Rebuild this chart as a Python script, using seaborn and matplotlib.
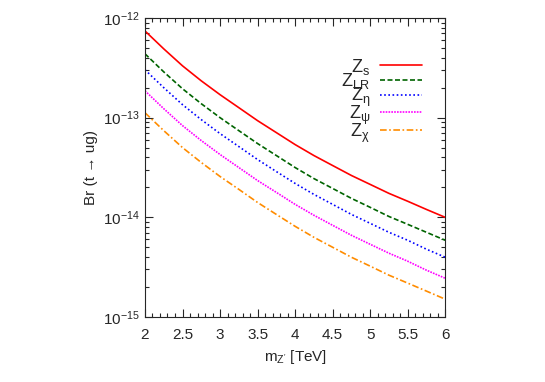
import pandas as pd
import matplotlib
matplotlib.use("Agg")
import matplotlib.pyplot as plt
import matplotlib.ticker as mticker
import seaborn as sns

# Z' mass [TeV] and branching ratios
m_zp = [2.0, 2.25, 2.5, 2.75, 3.0, 3.25, 3.5, 3.75, 4.0,
        4.25, 4.5, 4.75, 5.0, 5.25, 5.5, 5.75, 6.0]
br_zs = [7.41e-13, 4.90e-13, 3.31e-13, 2.34e-13, 1.70e-13, 1.26e-13, 9.33e-14, 7.08e-14, 5.37e-14,
         4.17e-14, 3.31e-14, 2.63e-14, 2.14e-14, 1.74e-14, 1.45e-14, 1.20e-14, 1.00e-14]
br_zlr = [4.37e-13, 2.88e-13, 1.95e-13, 1.38e-13, 1.00e-13, 7.41e-14, 5.50e-14, 4.17e-14, 3.16e-14,
          2.45e-14, 1.95e-14, 1.55e-14, 1.26e-14, 1.02e-14, 8.51e-15, 7.08e-15, 5.89e-15]
br_zeta = [3.02e-13, 2.00e-13, 1.35e-13, 9.55e-14, 6.92e-14, 5.13e-14, 3.80e-14, 2.88e-14, 2.19e-14,
           1.70e-14, 1.35e-14, 1.07e-14, 8.71e-15, 7.08e-15, 5.89e-15, 4.79e-15, 3.98e-15]
br_zpsi = [1.86e-13, 1.23e-13, 8.32e-14, 5.89e-14, 4.27e-14, 3.16e-14, 2.34e-14, 1.78e-14, 1.35e-14,
           1.05e-14, 8.32e-15, 6.61e-15, 5.37e-15, 4.37e-15, 3.63e-15, 2.95e-15, 2.45e-15]
br_zchi = [1.12e-13, 7.41e-14, 5.01e-14, 3.55e-14, 2.57e-14, 1.91e-14, 1.41e-14, 1.07e-14, 8.13e-15,
           6.31e-15, 5.01e-15, 3.98e-15, 3.24e-15, 2.63e-15, 2.19e-15, 1.82e-15, 1.51e-15]
y_ticks = [1e-15, 1e-14, 1e-13, 1e-12]

labels = [r"$\mathregular{Z_s}$", r"$\mathregular{Z_{LR}}$", r"$\mathregular{Z_\eta}$",
          r"$\mathregular{Z_\psi}$", r"$\mathregular{Z_\chi}$"]
series = [br_zs, br_zlr, br_zeta, br_zpsi, br_zchi]
colors = ["#ff0000", "#006400", "#0000ff", "#ff00ff", "#ff8c00"]
styles = ["-", (0, (3, 1.5)), (0, (1, 1.5)), (0, (1, 0.7)), (0, (4, 1.5, 1, 1.5))]

sns.set_style("ticks")
plt.rcParams["font.family"] = ["Liberation Sans", "DejaVu Sans"]
plt.rcParams["mathtext.fontset"] = "custom"
plt.rcParams["mathtext.rm"] = "Liberation Sans"
plt.rcParams["mathtext.it"] = "Liberation Sans:italic"

fig = plt.figure(figsize=(5.45, 3.82), dpi=100)
ax = fig.add_axes([0.266, 0.170, 0.551, 0.783])

for lab, ys, c, ls in zip(labels, series, colors, styles):
    df = pd.DataFrame({"m": m_zp, "br": ys})
    sns.lineplot(data=df, x="m", y="br", ax=ax, color=c, linestyle=ls,
                 linewidth=1.2, label=lab)

ax.set_yscale("log")
ax.set_xlim(2, 6)
ax.set_ylim(1e-15, 1e-12)
ax.xaxis.set_major_locator(mticker.MultipleLocator(0.5))
ax.xaxis.set_minor_locator(mticker.MultipleLocator(0.1))
ax.xaxis.set_major_formatter(mticker.FormatStrFormatter("%g"))
ax.yaxis.set_major_locator(mticker.FixedLocator(y_ticks))
ax.yaxis.set_minor_locator(mticker.LogLocator(base=10, subs=range(2, 10), numticks=20))
ax.yaxis.set_minor_formatter(mticker.NullFormatter())
ax.tick_params(which="both", direction="in", top=True, right=True, labelsize=11)
ax.tick_params(which="major", length=6, width=0.8)
ax.tick_params(which="minor", length=3, width=0.8)
ax.tick_params(axis="x", pad=8)

ax.set_xlabel(r"m$_{\mathregular{Z'}}$ [TeV]", fontsize=11)
ax.set_ylabel("Br (t → ug)", fontsize=11)

leg = ax.legend(loc="upper right", bbox_to_anchor=(0.975, 0.925), frameon=False,
                markerfirst=False, handlelength=2.3, fontsize=13,
                labelspacing=-0.3, handletextpad=0.55)
for t in leg.get_texts():
    t.set_ha("right")

plt.savefig("out.png", dpi=100)
